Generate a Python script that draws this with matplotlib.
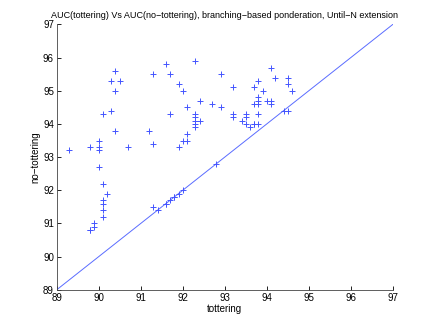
import numpy as np
import matplotlib
matplotlib.use('Agg')
import matplotlib.pyplot as plt

plt.rcParams['font.family'] = ['Liberation Sans', 'DejaVu Sans']

tottering = [89.3, 89.8, 90.0, 90.0, 90.0, 90.0, 90.1, 90.1, 90.2, 90.1, 90.1, 90.1, 90.1,
             89.9, 89.9, 89.8, 89.8,
             90.3, 90.5, 90.4, 90.4, 90.3, 90.4, 90.7,
             91.2, 91.3, 91.3, 91.3, 91.4,
             91.6, 91.7, 91.7, 91.9, 92.0, 92.1, 92.3,
             92.3, 92.3, 92.3, 92.3, 92.3, 92.4, 92.4,
             92.1, 92.0, 92.1, 91.9,
             91.6, 91.6, 91.7, 91.8, 91.8, 91.9, 92.0, 92.8,
             92.7, 92.9, 92.9,
             93.2, 93.2, 93.2, 93.4, 93.5, 93.5, 93.5, 93.6,
             93.7, 93.7, 93.8,
             93.7, 93.7, 93.8, 93.8, 93.8, 93.8, 93.8,
             93.9, 94.0, 94.1, 94.1, 94.1, 94.2,
             94.4, 94.5, 94.5, 94.5, 94.6]
no_tottering = [93.2, 93.3, 93.5, 93.3, 93.2, 92.7, 94.3, 92.2, 91.9, 91.7, 91.6, 91.4, 91.2,
                91.0, 90.9, 90.8, 90.8,
                95.3, 95.3, 95.6, 95.0, 94.4, 93.8, 93.3,
                93.8, 93.4, 95.5, 91.5, 91.4,
                95.8, 95.5, 94.3, 95.2, 95.0, 94.5, 95.9,
                94.3, 94.2, 94.1, 94.0, 93.9, 94.1, 94.7,
                93.7, 93.5, 93.5, 93.3,
                91.6, 91.6, 91.7, 91.8, 91.8, 91.9, 92.0, 92.8,
                94.6, 94.5, 95.5,
                95.1, 94.3, 94.2, 94.1, 94.3, 94.2, 94.0, 93.9,
                94.0, 94.0, 94.0,
                94.6, 95.1, 95.3, 94.8, 94.7, 94.6, 94.3,
                95.0, 94.7, 94.7, 94.6, 95.7, 95.4,
                94.4, 94.4, 95.4, 95.2, 95.0]

fig = plt.figure(figsize=(4.34, 3.26), dpi=100)
ax = fig.add_axes([0.1306, 0.111, 0.7744, 0.814])

ax.plot([89, 97], [89, 97], color='#5a6cff', linewidth=0.7)
ax.plot(tottering, no_tottering, '+', color='#4455ff', markersize=5, markeredgewidth=0.7)

ax.set_xlim(89, 97)
ax.set_ylim(89, 97)
ax.set_xticks(np.arange(89, 98))
ax.set_yticks(np.arange(89, 98))
ax.tick_params(direction='in', labelsize=7, length=3, width=0.6, pad=2)
ax.spines['top'].set_visible(False)
ax.spines['right'].set_visible(False)
for s in ('left', 'bottom'):
    ax.spines[s].set_linewidth(0.6)
    ax.spines[s].set_color('#444444')
ax.set_xlabel('tottering', fontsize=7, labelpad=1)
ax.set_ylabel('no\u2212tottering', fontsize=7, labelpad=2)
ax.set_title('AUC(tottering) Vs AUC(no\u2212tottering), branching\u2212based ponderation, Until\u2212N extension',
             fontsize=6.5, pad=5)

fig.savefig('out.png', dpi=100)
